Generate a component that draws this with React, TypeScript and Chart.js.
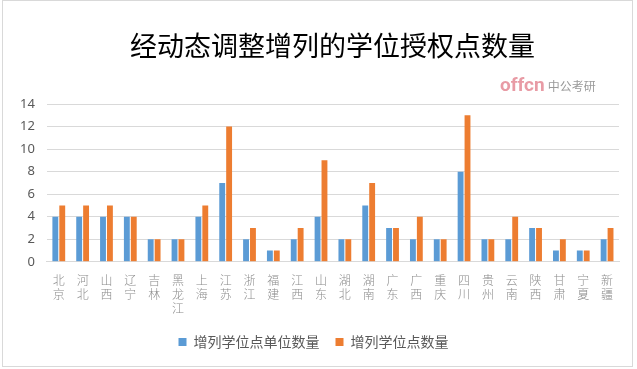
import React, { useEffect, useRef } from "react";
import { Chart, registerables } from "chart.js";

Chart.register(...registerables);

const categories = ["北京","河北","山西","辽宁","吉林","黑龙江","上海","江苏","浙江","福建","江西","山东","湖北","湖南","广东","广西","重庆","四川","贵州","云南","陕西","甘肃","宁夏","新疆"];
const unitCounts = [4,4,4,4,2,2,4,7,2,1,2,4,2,5,3,2,2,8,2,2,3,1,1,2];
const pointCounts = [5,5,5,4,2,2,5,12,3,1,3,9,2,7,3,4,2,13,2,4,3,2,1,3];
const seriesNames = ["增列学位点单位数量", "增列学位点数量"];
const titleText = "经动态调整增列的学位授权点数量";

export default function App() {
  const ref = useRef<HTMLCanvasElement>(null);
  useEffect(() => {
    document.body.style.margin = "0";
    const chart = new Chart(ref.current!, {
      type: "bar",
      data: {
        labels: categories.map((c) => c.split("")),
        datasets: [
          { label: seriesNames[0], data: unitCounts, backgroundColor: "#5B9BD5", barPercentage: 0.85, categoryPercentage: 0.58 },
          { label: seriesNames[1], data: pointCounts, backgroundColor: "#ED7D31", barPercentage: 0.85, categoryPercentage: 0.58 },
        ],
      },
      options: {
        animation: false,
        responsive: false,
        layout: { padding: { left: 8, right: 18, top: 104, bottom: 10 } },
        plugins: {
          title: { display: false },
          legend: {
            position: "bottom",
            labels: {
              boxWidth: 8,
              boxHeight: 8,
              color: "#595959",
              font: { family: "'Noto Sans CJK SC'", size: 14 },
              padding: 16,
            },
          },
          tooltip: { enabled: false },
        },
        scales: {
          x: {
            grid: { display: false },
            border: { color: "#D9D9D9" },
            ticks: {
              maxRotation: 0,
              minRotation: 0,
              autoSkip: false,
              color: "#8C8C8C",
              font: { family: "'Noto Sans CJK SC'", size: 12, lineHeight: 1.2, weight: "300" },
            },
          },
          y: {
            min: 0,
            max: 14,
            ticks: {
              stepSize: 2,
              color: "#595959",
              font: { family: "'Noto Sans', sans-serif", size: 13 },
              padding: 12,
            },
            grid: { color: "#D9D9D9", drawTicks: false },
            border: { display: false },
          },
        },
      },
    });
    return () => chart.destroy();
  }, []);
  return (
    <div style={{ position: "relative", width: 637, height: 369, background: "#fff" }}>
      <canvas ref={ref} width={637} height={369} style={{ position: "absolute", left: 0, top: 0 }} />
      <div style={{ position: "absolute", left: 2, top: 0, width: 629, height: 365, border: "1px solid #D9D9D9", pointerEvents: "none" }} />
      <div style={{ position: "absolute", left: 130, width: 400, top: 27, textAlign: "center", fontFamily: "'Noto Sans CJK SC'", fontSize: 27, lineHeight: "36px", color: "#000", whiteSpace: "nowrap" }}>
        {titleText}
      </div>
      <div style={{ position: "absolute", left: 500, top: 72, fontFamily: "'Noto Sans CJK SC'", whiteSpace: "nowrap" }}>
        <span style={{ color: "#E89BA5", fontWeight: "bold", fontSize: 19, fontFamily: "Roboto, sans-serif" }}>offcn</span>
        <span style={{ color: "#9A9A9A", fontSize: 12, marginLeft: 3 }}>中公考研</span>
      </div>
    </div>
  );
}
